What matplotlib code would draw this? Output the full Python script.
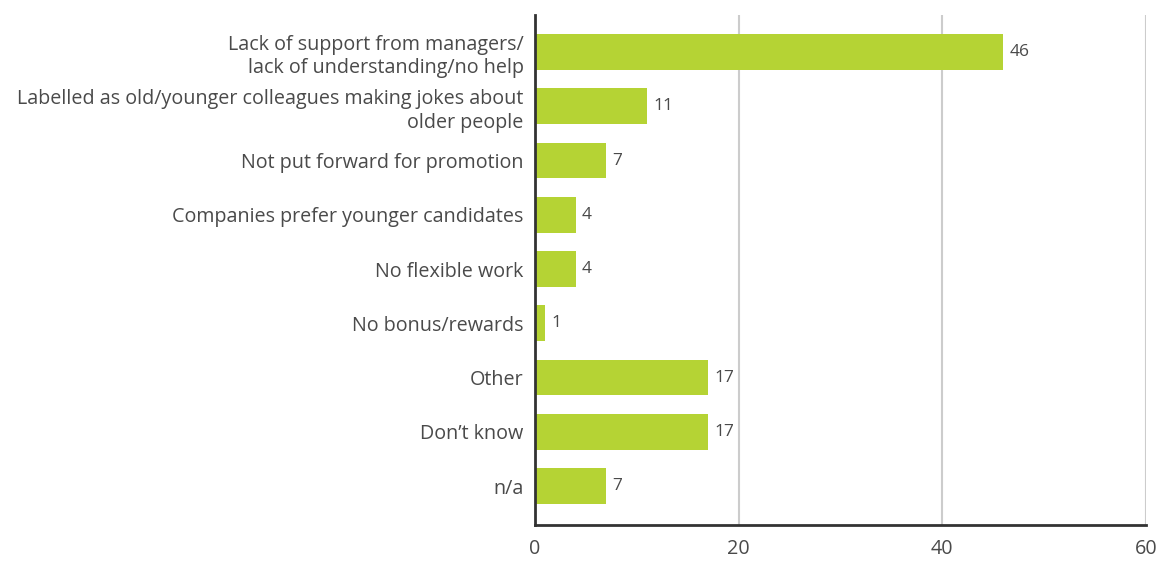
import matplotlib.pyplot as plt

categories = [
    'Lack of support from managers/\nlack of understanding/no help',
    'Labelled as old/younger colleagues making jokes about\nolder people',
    'Not put forward for promotion',
    'Companies prefer younger candidates',
    'No flexible work',
    'No bonus/rewards',
    'Other',
    "Don\u2019t know",
    'n/a',
]
values = [46, 11, 7, 4, 4, 1, 17, 17, 7]
xticks = [0, 20, 40, 60]

plt.rcParams['font.family'] = ['Open Sans', 'DejaVu Sans']
text_col = '#4a4a4a'
bar_col = '#B5D334'

fig = plt.figure(figsize=(11.6, 5.61), dpi=100)
ax = fig.add_axes([0.461, 0.064, 0.527, 0.909])

pos = list(range(len(categories)))
ax.barh(pos, values, height=0.66, color=bar_col, zorder=3)
for y, v in zip(pos, values):
    ax.text(v + 0.6, y, str(v), va='center', ha='left', fontsize=12.5, color=text_col)

ax.set_xlim(0, 60)
ax.set_ylim(8.72, -0.68)
ax.set_yticks(pos)
ax.set_yticklabels(categories, fontsize=14.2, color=text_col, linespacing=1.25)
ax.set_xticks(xticks)
ax.set_xticklabels([str(t) for t in xticks], fontsize=14.2, color=text_col)
ax.tick_params(axis='both', length=0)
ax.tick_params(axis='y', pad=8)
ax.tick_params(axis='x', pad=10)

ax.grid(True, axis='x', color='#cccccc', linewidth=1.5, zorder=0)
for s in ['top', 'right']:
    ax.spines[s].set_visible(False)
for s in ['left', 'bottom']:
    ax.spines[s].set_color('#333333')
    ax.spines[s].set_linewidth(2)
    ax.spines[s].set_zorder(4)

fig.savefig('out.png', dpi=100)
